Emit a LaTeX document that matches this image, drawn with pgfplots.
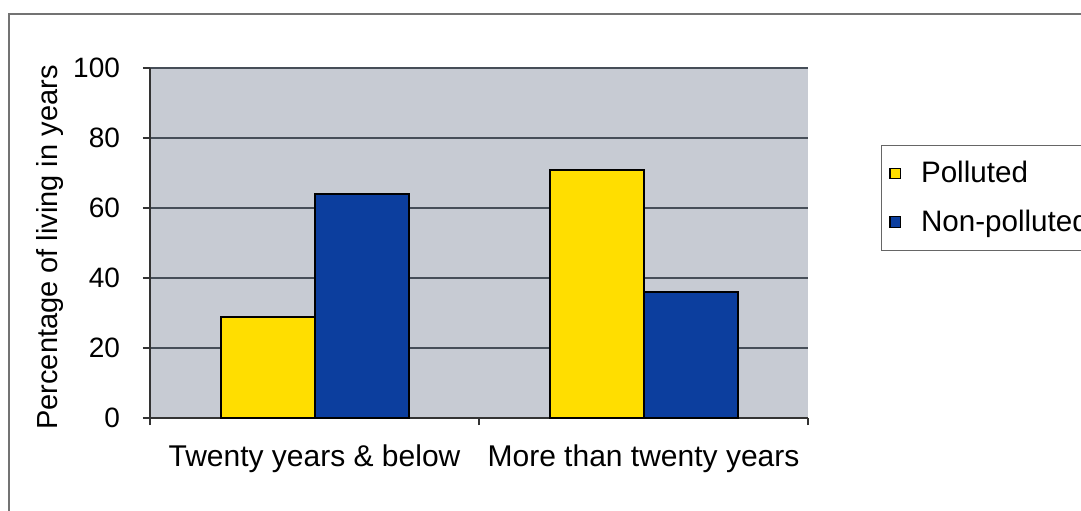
\documentclass[border=0pt]{standalone}
\usepackage{pgfplots}
\pgfplotsset{compat=1.18}
\usepackage{fontspec}
\setmainfont{Liberation Sans}

\definecolor{plotbg}{RGB}{199,203,211}
\definecolor{barYellow}{RGB}{255,222,0}
\definecolor{barBlue}{RGB}{12,62,158}
\definecolor{gridline}{RGB}{70,78,88}

\begin{document}
\begin{tikzpicture}
\useasboundingbox (0,0) rectangle (540.5pt,255pt);
\clip (0,0) rectangle (540.5pt,255pt);
\fill[white] (0,0) rectangle (540.5pt,255pt);
% outer chart frame
\draw[black!55, line width=0.6pt] (4.5pt,-20pt) rectangle (600pt,248pt);
\begin{axis}[
  at={(75pt,46pt)}, anchor=south west,
  scale only axis, width=329pt, height=175pt,
  ybar=0pt, bar width=47pt,
  xmin=-0.5, xmax=1.5, ymin=0, ymax=100,
  axis x line=bottom, axis y line=left,
  axis line style={-, black!80, line width=0.7pt},
  axis background/.style={fill=plotbg},
  ytick={0,20,...,100},
  ymajorgrids, major grid style={gridline, line width=0.55pt},
  tick align=outside, major tick length=3.5pt,
  tick style={black!80, line width=0.6pt},
  xtick={-0.5,0.5,1.5}, xticklabels={},
  extra x ticks={0,1},
  extra x tick labels={Twenty years \& below, More than twenty years},
  extra x tick style={major tick length=0pt, grid=none},
  xticklabel style={font=\fontsize{15pt}{17pt}\selectfont, yshift=-10pt},
  yticklabel style={font=\fontsize{14pt}{16pt}\selectfont, xshift=-8pt},
  /pgf/number format/assume math mode=true,
  ylabel={Percentage of living in years},
  ylabel style={font=\fontsize{14.5pt}{16pt}\selectfont, at={(axis description cs:-0.152,0.487)}, anchor=center, rotate=0},
  legend style={at={(1.111,0.78)}, anchor=north west, draw=black!60, fill=white,
    font=\fontsize{14.8pt}{16pt}\selectfont, inner xsep=4pt, inner ysep=6pt, row sep=8pt,
    /tikz/every odd column/.append style={column sep=8pt}},
  legend cell align=left,
  legend image code/.code={\draw[#1, draw=black, line width=0.6pt] (0pt,-2.6pt) rectangle (5.2pt,2.6pt);},
]
\addplot[fill=barYellow, draw=black, line width=1pt] coordinates {(0,29) (1,71)};
\addplot[fill=barBlue, draw=black, line width=1pt] coordinates {(0,64) (1,36)};
\legend{Polluted, Non-polluted}
\end{axis}
\end{tikzpicture}
\end{document}
